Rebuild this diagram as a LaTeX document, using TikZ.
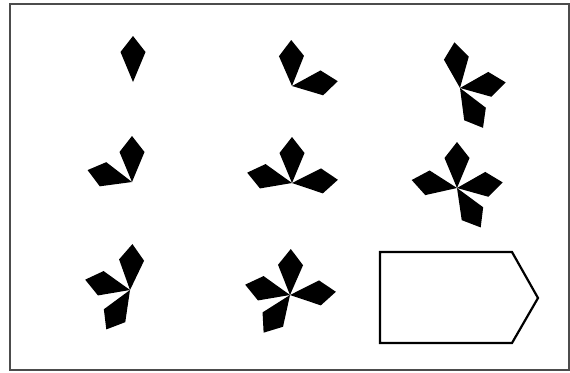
\documentclass[tikz,border=0pt]{standalone}
\begin{document}
\begin{tikzpicture}[x=1pt,y=-1pt,
  petal/.pic={\fill[black] (0,0) -- (30,-12.5) -- (46,0) -- (30,12.5) -- cycle;},
  framebox/.style={draw=black!70,line width=1.8pt},
  answerbox/.style={draw=black,line width=2.2pt,line join=miter}]
\useasboundingbox (0,0) rectangle (570,372);
\fill[white] (0,0) rectangle (570,372);
\draw[framebox] (10,4) rectangle (569,370);
% row 1
\pic[rotate=90] at (133,82) {petal};
\pic[rotate=91] at (292,86) {petal};
\pic[rotate=6] at (292,86) {petal};
\pic[rotate=97] at (460,88) {petal};
\pic[rotate=7] at (460,88) {petal};
\pic[rotate=-60] at (460,88) {petal};
% row 2
\pic[rotate=90] at (132,182) {petal};
\pic[rotate=165] at (132,182) {petal};
\pic[rotate=90] at (292,183) {petal};
\pic[rotate=167] at (292,183) {petal};
\pic[rotate=4] at (292,183) {petal};
\pic[rotate=90] at (457,188) {petal};
\pic[rotate=170] at (457,188) {petal};
\pic[rotate=7] at (457,188) {petal};
\pic[rotate=-59] at (457,188) {petal};
% row 3
\pic[rotate=87] at (130,290) {petal};
\pic[rotate=167] at (130,290) {petal};
\pic[rotate=-121] at (130,290) {petal};
\pic[rotate=89] at (290,295) {petal};
\pic[rotate=167] at (290,295) {petal};
\pic[rotate=4] at (290,295) {petal};
\pic[rotate=-125] at (290,295) {petal};
% answer box
\draw[answerbox] (380,252) -- (512,252) -- (538,298) -- (512,343) -- (380,343) -- cycle;
\end{tikzpicture}
\end{document}
